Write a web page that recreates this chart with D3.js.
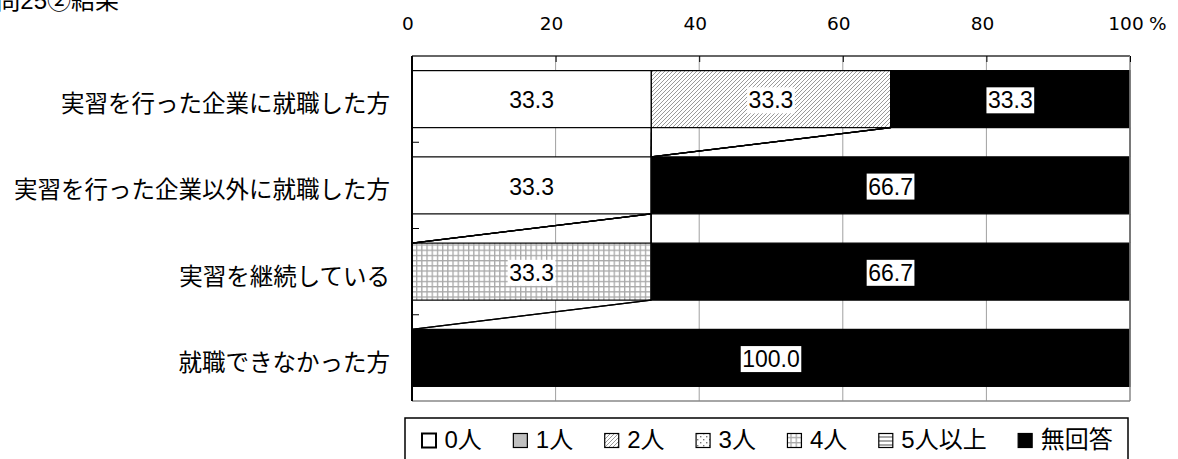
<!DOCTYPE html>
<html><head><meta charset="utf-8">
<script src="https://cdn.jsdelivr.net/npm/d3@7"></script>
<style>
html,body{margin:0;padding:0;background:#fff;overflow:hidden}
svg{display:block}
</style></head>
<body>
<svg id="chart" width="1178" height="459"></svg>
<script>
const title = "問25②結果";
const categories = ["実習を行った企業に就職した方","実習を行った企業以外に就職した方","実習を継続している","就職できなかった方"];
const seriesNames = ["0人","1人","2人","3人","4人","5人以上","無回答"];
const s0人 = [33.3, 33.3, 0, 0];
const s1人 = [0, 0, 0, 0];
const s2人 = [33.3, 0, 0, 0];
const s3人 = [0, 0, 0, 0];
const s4人 = [0, 0, 33.3, 0];
const s5人以上 = [0, 0, 0, 0];
const s無回答 = [33.3, 66.7, 66.7, 100.0];
const tickValues = [0, 20, 40, 60, 80, 100];
const seriesValues = [s0人, s1人, s2人, s3人, s4人, s5人以上, s無回答];

const svg = d3.select("#chart");
const m = {left: 412, right: 1130, top: 56, bottom: 401};

// patterns
const defs = svg.append("defs");
function pat(id, w, h, draw) {
  const p = defs.append("pattern").attr("id", id).attr("patternUnits", "userSpaceOnUse")
    .attr("width", w).attr("height", h);
  p.append("rect").attr("width", w).attr("height", h).attr("fill", "#fff");
  draw(p);
}
pat("p2", 4, 4, p => {
  p.append("path").attr("d", "M-1,1 L1,-1 M0,4 L4,0 M3,5 L5,3").attr("stroke", "#9a9a9a").attr("stroke-width", 1);
});
pat("p3", 6, 6, p => {
  p.append("rect").attr("x", 1).attr("y", 1).attr("width", 1.4).attr("height", 1.4).attr("fill", "#777");
  p.append("rect").attr("x", 4).attr("y", 4).attr("width", 1.4).attr("height", 1.4).attr("fill", "#777");
});
pat("p4", 5.2, 5.2, p => {
  p.append("path").attr("d", "M0,0.6 H5.2 M0.6,0 V5.2").attr("stroke", "#a8a8a8").attr("stroke-width", 1.4);
});
pat("p5", 4, 4, p => {
  p.append("path").attr("d", "M0,1 H4").attr("stroke", "#808080").attr("stroke-width", 1.4);
});
const fills = ["#ffffff", "#c0c0c0", "url(#p2)", "url(#p3)", "url(#p4)", "url(#p5)", "#000000"];

// data table
const table = categories.map((c, i) => {
  const row = {cat: c};
  seriesNames.forEach((s, j) => row[s] = seriesValues[j][i]);
  return row;
});
const stacked = d3.stack().keys(seriesNames).offset(d3.stackOffsetExpand)(table);

const x = d3.scaleLinear().domain([0, 1]).range([m.left, m.right]);
const xp = d3.scaleLinear().domain([0, 100]).range([m.left, m.right]);
const y = d3.scaleBand().domain(categories).range([m.top, m.bottom]).paddingInner(0.339).paddingOuter(0.1695);

// gridlines
svg.append("g").selectAll("line").data(tickValues.filter(d => d > 0 && d < 100)).join("line")
  .attr("x1", d => xp(d)).attr("x2", d => xp(d)).attr("y1", m.top).attr("y2", m.bottom)
  .attr("stroke", "#a0a0a0").attr("stroke-width", 1);

// bars
const gBars = svg.append("g");
stacked.forEach((ser, j) => {
  gBars.append("g").selectAll("rect").data(ser).join("rect")
    .attr("x", d => x(d[0])).attr("width", d => x(d[1]) - x(d[0]))
    .attr("y", d => y(d.data.cat)).attr("height", y.bandwidth())
    .attr("fill", fills[j])
    .attr("stroke", d => (d[1] - d[0]) > 0 ? "#000" : "none").attr("stroke-width", 1.2);
});

// series lines
const gSL = svg.append("g");
stacked.forEach(ser => {
  for (let i = 0; i < categories.length - 1; i++) {
    gSL.append("line")
      .attr("x1", x(ser[i][1])).attr("y1", y(categories[i]) + y.bandwidth())
      .attr("x2", x(ser[i + 1][1])).attr("y2", y(categories[i + 1]))
      .attr("stroke", "#000").attr("stroke-width", 1.4);
  }
});

// plot border
svg.append("line").attr("x1", m.left).attr("x2", m.right).attr("y1", m.top).attr("y2", m.top).attr("stroke", "#333").attr("stroke-width", 1.5);
svg.append("line").attr("x1", m.right).attr("x2", m.right).attr("y1", m.top).attr("y2", m.bottom).attr("stroke", "#888").attr("stroke-width", 1.5);
svg.append("line").attr("x1", m.left).attr("x2", m.right).attr("y1", m.bottom).attr("y2", m.bottom).attr("stroke", "#888").attr("stroke-width", 1.5);
svg.append("line").attr("x1", m.left).attr("x2", m.left).attr("y1", m.top).attr("y2", m.bottom).attr("stroke", "#000").attr("stroke-width", 2);

// top axis
const ax = svg.append("g").attr("transform", `translate(0,${m.top})`)
  .call(d3.axisTop(xp).tickValues(tickValues).tickSizeInner(-6).tickSizeOuter(0).tickPadding(26).tickFormat(d => d));
ax.attr("font-family", "DejaVu Sans").attr("font-size", 18.5);
ax.select(".domain").remove();
ax.selectAll(".tick line").attr("stroke", "#000");
ax.selectAll(".tick text").attr("dx", -4.5).attr("fill", "#000");
svg.append("text").attr("x", xp(100) + 19).attr("y", m.top - 26).text("%")
  .attr("font-family", "DejaVu Sans").attr("font-size", 18.5);

// left axis ticks at band boundaries
const step = y.step();
svg.append("g").selectAll("line").data(d3.range(1, categories.length)).join("line")
  .attr("x1", m.left).attr("x2", m.left + 7)
  .attr("y1", i => m.top + i * step).attr("y2", i => m.top + i * step)
  .attr("stroke", "#000").attr("stroke-width", 1);

// category labels
svg.append("g").selectAll("text").data(categories).join("text")
  .attr("x", m.left - 22).attr("y", d => y(d) + y.bandwidth() / 2 + 3)
  .attr("text-anchor", "end").attr("dominant-baseline", "central")
  .style("font-family", "'Noto Sans CJK JP'").style("font-size", "23.5px")
  .text(d => d);

// data labels
const gLab = svg.append("g");
stacked.forEach((ser, j) => {
  ser.forEach((d, i) => {
    const v = seriesValues[j][i];
    if (!v) return;
    const cx = x((d[0] + d[1]) / 2);
    const g = gLab.append("g");
    const t = g.append("text").attr("x", cx).attr("y", y(d.data.cat) + y.bandwidth() / 2 + 9.2)
      .attr("text-anchor", "middle")
      .style("font-family", "'Liberation Sans'").style("font-size", "23px")
      .text(v.toFixed(1));
    const bb = t.node().getBBox();
    g.insert("rect", "text").attr("x", bb.x - 1.5).attr("y", bb.y).attr("width", bb.width + 3).attr("height", bb.height)
      .attr("fill", "#fff");
  });
});

// title (partly clipped at the top-left as in the reference)
svg.append("text").attr("x", 119).attr("y", 9).attr("text-anchor", "end")
  .style("font-family", "'Liberation Sans','Noto Sans CJK JP'").style("font-size", "24px").text(title);

// legend
const lg = svg.append("g");
lg.append("rect").attr("x", 405).attr("y", 418).attr("width", 723).attr("height", 60)
  .attr("fill", "#fff").attr("stroke", "#000").attr("stroke-width", 1.5);
let lx = 422;
seriesNames.forEach((s, j) => {
  lg.append("rect").attr("x", lx).attr("y", 433.5).attr("width", 14).attr("height", 14)
    .attr("fill", fills[j]).attr("stroke", "#000").attr("stroke-width", j === 0 ? 2 : 1.2);
  const t = lg.append("text").attr("x", lx + 22.5).attr("y", 448.3)
    .style("font-family", "'Liberation Sans','Noto Sans CJK JP'").style("font-size", "24px").text(s);
  lx += 22.5 + t.node().getComputedTextLength() + 31.5;
});
</script>
</body></html>
